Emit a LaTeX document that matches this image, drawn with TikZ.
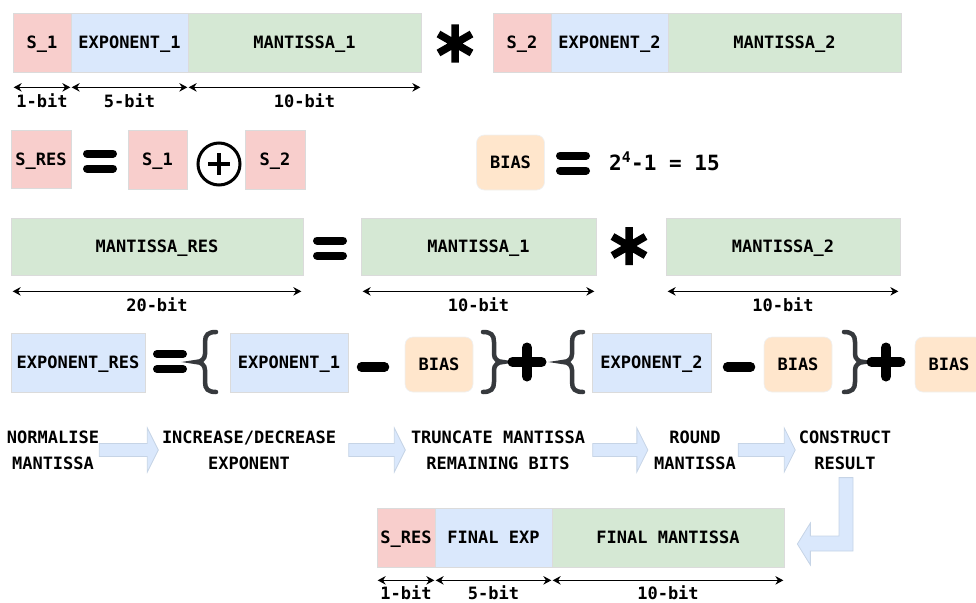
\documentclass[tikz,border=0pt]{standalone}
\usepackage{fontspec}
\setmonofont{DejaVu Sans Mono}
\usetikzlibrary{arrows.meta,calc}

\definecolor{sgnred}{HTML}{F8CECC}
\definecolor{expblue}{HTML}{DAE8FC}
\definecolor{mantgreen}{HTML}{D5E8D4}
\definecolor{biasorange}{HTML}{FFE6CC}
\definecolor{bracegrey}{HTML}{36393D}
\definecolor{flowedge}{HTML}{C6D4E6}

\newcommand\labfont{\fontsize{17}{26}\selectfont\ttfamily\bfseries}

\tikzset{
  field/.style={draw=black!14, line width=0.7pt, minimum height=59pt,
    inner sep=0pt, font=\labfont, text height=12.4pt, text depth=0pt},
  biasbox/.style={field, fill=biasorange, draw=black!6, rounded corners=8pt,
    minimum width=68pt, minimum height=55pt},
  lbl/.style={inner sep=0pt, font=\labfont, text height=12.4pt, text depth=0pt},
  steptext/.style={inner sep=0pt, font=\labfont, align=center},
  dim/.style={line width=1.6pt, {Stealth[length=8pt,width=8.5pt]}-{Stealth[length=8pt,width=8.5pt]},
    shorten <=1pt, shorten >=1pt},
  sym/.style={line width=8pt, line cap=round},
  flow/.style={fill=expblue, draw=flowedge, line width=0.8pt, line join=miter},
  eqbars/.pic={\draw[sym] (-13,-7.5) -- (13,-7.5) (-13,7.5) -- (13,7.5);},
  minusbar/.pic={\draw[sym, line width=9.5pt] (-11.5,0) -- (11.5,0);},
  plusbars/.pic={\draw[sym, line width=10pt] (-14.5,0) -- (14.5,0) (0,-14.5) -- (0,14.5);},
  asterisk/.pic={\draw[line width=7.5pt] (0,-19) -- (0,19)
      (-16.5,-9.5) -- (16.5,9.5) (-16.5,9.5) -- (16.5,-9.5);},
  xorsign/.pic={\draw[line width=3pt] (0,0) circle[radius=21];
      \draw[line width=4pt] (-11,0) -- (11,0) (0,-11) -- (0,11);},
  lbrace/.pic={\draw[bracegrey, line width=4.5pt, line cap=round]
      (11,-30) .. controls (3,-30) and (0,-27) .. (0,-20) -- (0,-8)
      .. controls (0,-3) and (-4,0) .. (-9,0)
      .. controls (-4,0) and (0,3) .. (0,8) -- (0,20)
      .. controls (0,27) and (3,30) .. (11,30);},
  rbrace/.pic={\draw[bracegrey, line width=4.5pt, line cap=round]
      (-11,-30) .. controls (-3,-30) and (0,-27) .. (0,-20) -- (0,-8)
      .. controls (0,-3) and (4,0) .. (9,0)
      .. controls (4,0) and (0,3) .. (0,8) -- (0,20)
      .. controls (0,27) and (-3,30) .. (-11,30);},
}

% block arrow between two points on one row
\newcommand\flowarrow[2]{%
  \path[flow] let \p1=(#1), \p2=(#2) in
    (\x1,\y1+6.5pt) -- (\x2-11pt,\y1+6.5pt) -- (\x2-11pt,\y1+22pt) -- (\x2,\y1)
    -- (\x2-11pt,\y1-22pt) -- (\x2-11pt,\y1-6.5pt) -- (\x1,\y1-6.5pt) -- cycle;}

\begin{document}
\begin{tikzpicture}[x=1pt,y=-1pt]
\path[use as bounding box] (0,0) rectangle (976,602);
\clip (0,0) rectangle (976,602);

% ---- operands: sign | exponent | mantissa ----
\node[field, fill=sgnred,    minimum width=58pt]  (s1) at (42,42.5)    {S\_1};
\node[field, fill=expblue,   minimum width=117pt] (e1) at (129.5,42.5) {EXPONENT\_1};
\node[field, fill=mantgreen, minimum width=233pt] (m1) at (304.5,42.5) {MANTISSA\_1};
\pic at (455,43.5) {asterisk};
\node[field, fill=sgnred,    minimum width=58pt]  (s2) at (522,42.5)   {S\_2};
\node[field, fill=expblue,   minimum width=117pt] (e2) at (609.5,42.5) {EXPONENT\_2};
\node[field, fill=mantgreen, minimum width=233pt] (m2) at (784.5,42.5) {MANTISSA\_2};

\foreach \f/\t in {s1/1-bit, e1/5-bit, m1/10-bit}{
  \draw[dim] ([yshift=-15pt]\f.south west) -- ([yshift=-15pt]\f.south east);
  \node[lbl] (w\f) at ([yshift=-29pt]\f.south) {\t};
}

% ---- sign of the result ----
\node[field, fill=sgnred, minimum width=60pt, minimum height=58pt] (sres) at (41,159) {S\_RES};
\pic at (100,161) {eqbars};
\node[field, fill=sgnred, minimum width=59pt] (s1b) at (157.5,159.5) {S\_1};
\pic at (219,164) {xorsign};
\node[field, fill=sgnred, minimum width=60pt] (s2b) at (275,159.5) {S\_2};

% ---- bias ----
\node[biasbox] (bias0) at (510.5,162.5) {BIAS};
\pic at (573,163) {eqbars};
\node[lbl, anchor=west, font=\fontsize{21}{24}\selectfont\ttfamily\bfseries,
  text height=15pt] (biasval) at (609,163) {2\textsuperscript{4}-1 = 15};

% ---- mantissa product ----
\node[field, fill=mantgreen, minimum width=292pt, minimum height=57pt] (mres) at (157,246.5) {MANTISSA\_RES};
\pic at (330,248) {eqbars};
\node[field, fill=mantgreen, minimum width=235pt, minimum height=57pt] (mm1) at (478.5,246.5) {MANTISSA\_1};
\pic at (629,246) {asterisk};
\node[field, fill=mantgreen, minimum width=234pt, minimum height=57pt] (mm2) at (783,246.5) {MANTISSA\_2};

\foreach \f/\t in {mres/20-bit, mm1/10-bit, mm2/10-bit}{
  \draw[dim] ([yshift=-16pt,xshift=1pt]\f.south west) -- ([yshift=-16pt,xshift=-1pt]\f.south east);
  \node[lbl] (w\f) at ([yshift=-30pt]\f.south) {\t};
}

% ---- exponent of the result ----
\node[field, fill=expblue, minimum width=134pt] (eres) at (78,362.5) {EXPONENT\_RES};
\pic at (170,361.5) {eqbars};
\pic at (205,362) {lbrace};
\node[field, fill=expblue, minimum width=118pt] (ex1) at (289,362.5) {EXPONENT\_1};
\pic at (373,367) {minusbar};
\node[biasbox] (bias1) at (439,364.5) {BIAS};
\pic at (494,362) {rbrace};
\pic at (527,362) {plusbars};
\pic at (572,362) {lbrace};
\node[field, fill=expblue, minimum width=119pt] (ex2) at (651.5,362.5) {EXPONENT\_2};
\pic at (739,367) {minusbar};
\node[biasbox] (bias2) at (798,364.5) {BIAS};
\pic at (855,362) {rbrace};
\pic at (886,362) {plusbars};
\node[biasbox] (bias3) at (949,364.5) {BIAS};

% ---- post-processing steps ----
\node[steptext] (n1) at (53,450)  {NORMALISE\\MANTISSA};
\node[steptext] (n2) at (249,450) {INCREASE/DECREASE\\EXPONENT};
\node[steptext] (n3) at (498,450) {TRUNCATE MANTISSA\\REMAINING BITS};
\node[steptext] (n4) at (695,450) {ROUND\\MANTISSA};
\node[steptext] (n5) at (845,450) {CONSTRUCT\\RESULT};

\flowarrow{n1.east}{$(n2.west)+(-3.5,0)$}
\flowarrow{$(n2.east)+(12.5,0)$}{$(n3.west)+(-5.5,0)$}
\flowarrow{$(n3.east)+(7.5,0)$}{$(n4.west)+(-6,0)$}
\flowarrow{$(n4.east)+(2,0)$}{$(n5.west)+(-3.5,0)$}

% ---- final result ----
\node[field, fill=sgnred,    minimum width=58pt]  (fs) at (406,537.5)   {S\_RES};
\node[field, fill=expblue,   minimum width=117pt] (fe) at (493.5,537.5) {FINAL EXP};
\node[field, fill=mantgreen, minimum width=232pt] (fm) at (668,537.5)   {FINAL MANTISSA};

\path[flow] let \p1=(n5.south), \p2=(fm.east) in
  (\x1-6pt,\y1-8pt) -- (\x1+8pt,\y1-8pt) -- (\x1+8pt,\y2-13.5pt)
  -- (\x2+26pt,\y2-13.5pt) -- (\x2+26pt,\y2-27.5pt) -- (\x2+13pt,\y2-6.5pt)
  -- (\x2+26pt,\y2+14.5pt) -- (\x2+26pt,\y2+1.5pt) -- (\x1-6pt,\y2+1.5pt) -- cycle;

\foreach \f/\t in {fs/1-bit, fe/5-bit, fm/10-bit}{
  \draw[dim] ([yshift=-13pt]\f.south west) -- ([yshift=-13pt]\f.south east);
  \node[lbl] (w\f) at ([yshift=-26pt]\f.south) {\t};
}
\end{tikzpicture}
\end{document}
